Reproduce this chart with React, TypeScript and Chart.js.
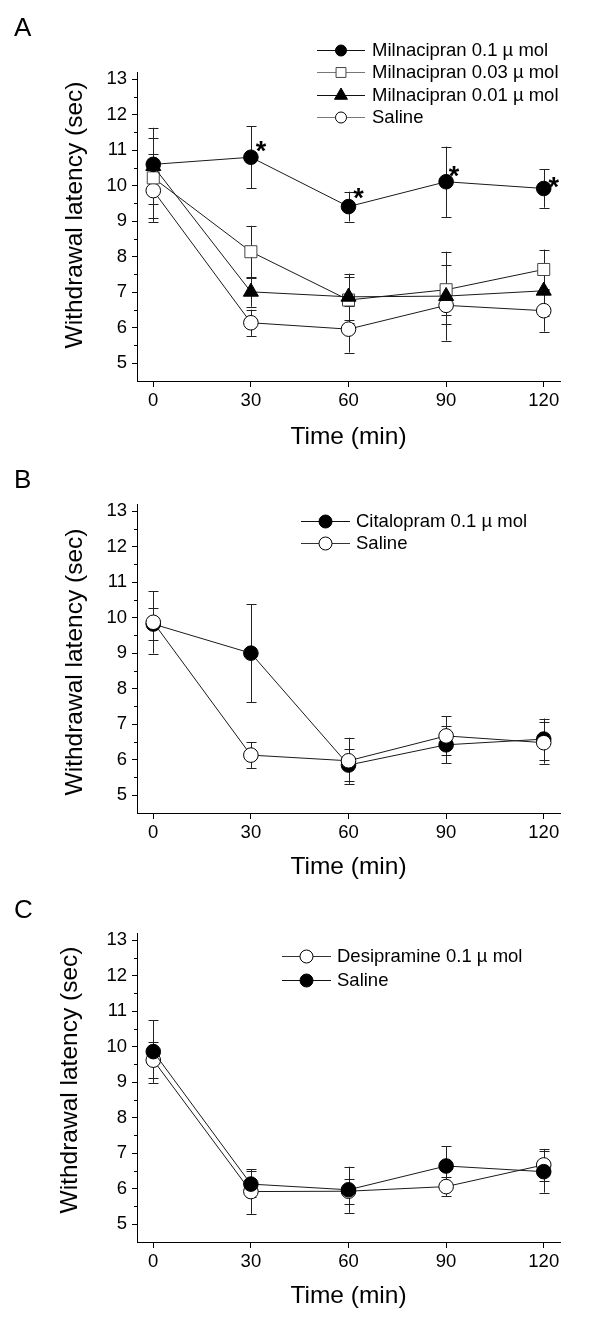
import React, { useEffect, useRef } from 'react';
import { Chart, registerables } from 'chart.js';

Chart.register(...registerables);

const FONT = "'Liberation Sans', Arial, Helvetica, sans-serif";

// ---------- shared axes ----------
const timePoints = [0, 30, 60, 90, 120];
const xTickValues = [0, 30, 60, 90, 120];
const yTickValues = [5, 6, 7, 8, 9, 10, 11, 12, 13];
const yMinorTickValues = [5.5, 6.5, 7.5, 8.5, 9.5, 10.5, 11.5, 12.5];
const xMin = -5;
const xMax = 125;
const yMin = 4.5;
const yMax = 13.2;
const xAxisTitle = 'Time (min)';
const yAxisTitle = 'Withdrawal latency (sec)';

// ---------- Panel A ----------
const milna01Label = 'Milnacipran 0.1 \u00b5 mol';
const milna01Mean = [10.6, 10.8, 9.41, 10.11, 9.92];
const milna01Err = [0.28, 0.87, 0.42, 0.99, 0.54];
const milna01Significant = [false, true, true, true, true];

const milna003Label = 'Milnacipran 0.03 \u00b5 mol';
const milna003Mean = [10.22, 8.14, 6.78, 7.07, 7.64];
const milna003Err = [1.13, 0.73, 0.66, 0.7, 0.56];

const milna001Label = 'Milnacipran 0.01 \u00b5 mol';
const milna001Mean = [10.55, 7.01, 6.87, 6.89, 7.04];
const milna001Err = [1.08, 0.42, 0.65, 1.25, 0.71];

const salineALabel = 'Saline';
const salineAMean = [9.86, 6.14, 5.96, 6.63, 6.48];
const salineAErr = [0.88, 0.37, 0.66, 0.53, 0.59];

// ---------- Panel B ----------
const citalopramLabel = 'Citalopram 0.1 \u00b5 mol';
const citalopramMean = [9.82, 9.0, 5.85, 6.42, 6.58];
const citalopramErr = [0.45, 1.38, 0.45, 0.52, 0.58];

const salineBLabel = 'Saline';
const salineBMean = [9.87, 6.13, 5.97, 6.67, 6.48];
const salineBErr = [0.88, 0.36, 0.65, 0.55, 0.59];

// ---------- Panel C ----------
const desipramineLabel = 'Desipramine 0.1 \u00b5 mol';
const desipramineMean = [9.62, 5.92, 5.93, 6.06, 6.67];
const desipramineErr = [0.5, 0.63, 0.35, 0.26, 0.45];

const salineCLabel = 'Saline';
const salineCMean = [9.86, 6.13, 5.97, 6.64, 6.48];
const salineCErr = [0.88, 0.37, 0.65, 0.56, 0.59];

// ---------- styling / layout ----------
const asteriskOffsets = [
  [0, 0],
  [10, -12],
  [10, -15],
  [8, -12],
  [10, -7],
];

type MarkerKind = 'circle' | 'rect' | 'triangle';

interface Series {
  label: string;
  mean: number[];
  err: number[];
  marker: MarkerKind;
  filled: boolean;
  stroke: string;
  legendLine: string;
  radius: number;
  legendRadius: number;
  order: number;
  significant?: boolean[];
}

interface PanelSpec {
  letter: string;
  top: number;
  height: number;
  chartTop: number;
  chartBottom: number;
  xTitlePad: number;
  yTitleX: number;
  yTitleY: number;
  letterY: number;
  legendX0: number;
  legendX1: number;
  legendTextX: number;
  legendYs: number[];
  series: Series[];
}

const panels: PanelSpec[] = [
  {
    letter: 'A',
    top: 0,
    height: 460,
    chartTop: 72,
    chartBottom: 381,
    xTitlePad: 11,
    yTitleX: 75,
    yTitleY: 215,
    letterY: 36,
    legendX0: 317,
    legendX1: 365,
    legendTextX: 372,
    legendYs: [50, 72.3, 94.6, 116.9],
    series: [
      { label: milna01Label, mean: milna01Mean, err: milna01Err, marker: 'circle', filled: true, stroke: '#000', legendLine: '#111', radius: 7.3, legendRadius: 5.5, order: 0, significant: milna01Significant },
      { label: milna003Label, mean: milna003Mean, err: milna003Err, marker: 'rect', filled: false, stroke: '#444', legendLine: '#777', radius: 8.5, legendRadius: 7, order: 2 },
      { label: milna001Label, mean: milna001Mean, err: milna001Err, marker: 'triangle', filled: true, stroke: '#000', legendLine: '#111', radius: 8.7, legendRadius: 7.5, order: 1 },
      { label: salineALabel, mean: salineAMean, err: salineAErr, marker: 'circle', filled: false, stroke: '#000', legendLine: '#777', radius: 7.3, legendRadius: 5.5, order: 3 },
    ],
  },
  {
    letter: 'B',
    top: 460,
    height: 420,
    chartTop: 44,
    chartBottom: 353,
    xTitlePad: 0.5,
    yTitleX: 75.5,
    yTitleY: 202,
    letterY: 28,
    legendX0: 301,
    legendX1: 350,
    legendTextX: 356,
    legendYs: [60.7, 83.3],
    series: [
      { label: citalopramLabel, mean: citalopramMean, err: citalopramErr, marker: 'circle', filled: true, stroke: '#000', legendLine: '#111', radius: 7.3, legendRadius: 6.5, order: 1 },
      { label: salineBLabel, mean: salineBMean, err: salineBErr, marker: 'circle', filled: false, stroke: '#000', legendLine: '#333', radius: 7.3, legendRadius: 6.5, order: 0 },
    ],
  },
  {
    letter: 'C',
    top: 880,
    height: 440,
    chartTop: 53,
    chartBottom: 362,
    xTitlePad: 12,
    yTitleX: 70,
    yTitleY: 200,
    letterY: 38,
    legendX0: 282,
    legendX1: 331,
    legendTextX: 337,
    legendYs: [76, 100],
    series: [
      { label: desipramineLabel, mean: desipramineMean, err: desipramineErr, marker: 'circle', filled: false, stroke: '#000', legendLine: '#333', radius: 7.3, legendRadius: 6.5, order: 1 },
      { label: salineCLabel, mean: salineCMean, err: salineCErr, marker: 'circle', filled: true, stroke: '#000', legendLine: '#111', radius: 7.3, legendRadius: 6.5, order: 0 },
    ],
  },
];

function drawMarker(ctx: CanvasRenderingContext2D, kind: MarkerKind, x: number, y: number, r: number, filled: boolean, stroke: string) {
  ctx.save();
  ctx.beginPath();
  if (kind === 'circle') {
    ctx.arc(x, y, r, 0, Math.PI * 2);
  } else if (kind === 'rect') {
    const s = r * Math.SQRT1_2;
    ctx.rect(x - s, y - s, 2 * s, 2 * s);
  } else {
    const a = (2 * Math.PI) / 3;
    ctx.moveTo(x, y - r);
    ctx.lineTo(x + r * Math.sin(a), y - r * Math.cos(a));
    ctx.lineTo(x + r * Math.sin(2 * a), y - r * Math.cos(2 * a));
    ctx.closePath();
  }
  ctx.fillStyle = filled ? '#000' : '#fff';
  ctx.fill();
  ctx.lineWidth = 1;
  ctx.strokeStyle = stroke;
  ctx.stroke();
  ctx.restore();
}

function buildConfig(spec: PanelSpec): any {
  const extras = {
    id: 'extras',
    beforeDatasetsDraw(chart: any) {
      const ctx: CanvasRenderingContext2D = chart.ctx;
      const xs = chart.scales.x;
      const ys = chart.scales.y;
      ctx.save();
      ctx.strokeStyle = '#222';
      ctx.lineWidth = 1;
      spec.series.forEach((s) => {
        s.mean.forEach((m, i) => {
          const px = Math.round(xs.getPixelForValue(timePoints[i])) + 0.5;
          const pt = ys.getPixelForValue(m + s.err[i]);
          const pb = ys.getPixelForValue(m - s.err[i]);
          ctx.beginPath();
          ctx.moveTo(px, pt);
          ctx.lineTo(px, pb);
          ctx.moveTo(px - 5, Math.round(pt) + 0.5);
          ctx.lineTo(px + 5, Math.round(pt) + 0.5);
          ctx.moveTo(px - 5, Math.round(pb) + 0.5);
          ctx.lineTo(px + 5, Math.round(pb) + 0.5);
          ctx.stroke();
        });
      });
      ctx.restore();
    },
    afterDraw(chart: any) {
      const ctx: CanvasRenderingContext2D = chart.ctx;
      const xs = chart.scales.x;
      const ys = chart.scales.y;
      const area = chart.chartArea;
      ctx.save();
      // minor y ticks
      ctx.strokeStyle = '#000';
      ctx.lineWidth = 1;
      yMinorTickValues.forEach((v) => {
        const py = Math.round(ys.getPixelForValue(v)) + 0.5;
        ctx.beginPath();
        ctx.moveTo(area.left - 3, py);
        ctx.lineTo(area.left, py);
        ctx.stroke();
      });
      // y axis title
      ctx.fillStyle = '#000';
      ctx.font = `24.5px ${FONT}`;
      ctx.textAlign = 'center';
      ctx.textBaseline = 'middle';
      ctx.save();
      ctx.translate(spec.yTitleX, spec.yTitleY);
      ctx.rotate(-Math.PI / 2);
      ctx.fillText(yAxisTitle, 0, 0);
      ctx.restore();
      // panel letter
      ctx.font = `26px ${FONT}`;
      ctx.textAlign = 'left';
      ctx.textBaseline = 'alphabetic';
      ctx.fillText(spec.letter, 14, spec.letterY);
      // asterisks
      ctx.font = `bold 27px ${FONT}`;
      ctx.textAlign = 'center';
      spec.series.forEach((s) => {
        if (!s.significant) return;
        s.significant.forEach((sig, i) => {
          if (!sig) return;
          const px = xs.getPixelForValue(timePoints[i]) + asteriskOffsets[i][0];
          const py = ys.getPixelForValue(s.mean[i]) + asteriskOffsets[i][1];
          ctx.fillText('*', px, py + 15);
        });
      });
      // legend
      spec.series.forEach((s, i) => {
        const ly = spec.legendYs[i];
        const yy = Math.round(ly) + 0.5;
        ctx.strokeStyle = s.legendLine;
        ctx.lineWidth = 1;
        ctx.beginPath();
        ctx.moveTo(spec.legendX0, yy);
        ctx.lineTo(spec.legendX1, yy);
        ctx.stroke();
        drawMarker(ctx, s.marker, (spec.legendX0 + spec.legendX1) / 2, yy, s.legendRadius, s.filled, s.stroke);
        ctx.fillStyle = '#000';
        ctx.font = `18.5px ${FONT}`;
        ctx.textAlign = 'left';
        ctx.textBaseline = 'middle';
        ctx.fillText(s.label, spec.legendTextX, ly + 1);
      });
      ctx.restore();
    },
  };

  return {
    type: 'line',
    data: {
      datasets: spec.series.map((s) => ({
        label: s.label,
        data: timePoints.map((t, i) => ({ x: t, y: s.mean[i] })),
        borderColor: '#1a1a1a',
        borderWidth: 1,
        pointStyle: s.marker,
        pointRadius: s.radius,
        pointHoverRadius: s.radius,
        pointBackgroundColor: s.filled ? '#000' : '#fff',
        pointBorderColor: s.stroke,
        pointBorderWidth: 1,
        tension: 0,
        fill: false,
        order: s.order,
      })),
    },
    options: {
      responsive: false,
      maintainAspectRatio: false,
      animation: false,
      events: [],
      layout: { padding: { top: spec.chartTop, right: 40, left: 0, bottom: 0 } },
      plugins: { legend: { display: false }, tooltip: { enabled: false } },
      scales: {
        x: {
          type: 'linear',
          min: xMin,
          max: xMax,
          afterBuildTicks: (s: any) => {
            s.ticks = xTickValues.map((v) => ({ value: v }));
          },
          afterFit: (s: any) => {
            s.height = spec.height - spec.chartBottom;
          },
          grid: { display: true, drawOnChartArea: false, drawTicks: true, tickLength: 6, tickColor: '#000', tickWidth: 1 },
          border: { display: true, color: '#000', width: 1 },
          ticks: { color: '#000', font: { family: FONT, size: 18.5 }, padding: 3, maxRotation: 0, autoSkip: false },
          title: { display: true, text: xAxisTitle, color: '#000', font: { family: FONT, size: 24.5, lineHeight: 1 }, padding: { top: 0, bottom: spec.xTitlePad } },
        },
        y: {
          type: 'linear',
          min: yMin,
          max: yMax,
          afterBuildTicks: (s: any) => {
            s.ticks = yTickValues.map((v) => ({ value: v }));
          },
          afterFit: (s: any) => {
            s.width = 137;
          },
          grid: { display: true, drawOnChartArea: false, drawTicks: true, tickLength: 5, tickColor: '#000', tickWidth: 1 },
          border: { display: true, color: '#000', width: 1 },
          ticks: { color: '#000', font: { family: FONT, size: 18.5 }, padding: 5, autoSkip: false },
          title: { display: false },
        },
      },
    },
    plugins: [extras],
  };
}

function Panel({ spec }: { spec: PanelSpec }) {
  const ref = useRef<HTMLCanvasElement>(null);
  useEffect(() => {
    if (!ref.current) return;
    const chart = new Chart(ref.current, buildConfig(spec));
    return () => chart.destroy();
  }, [spec]);
  return (
    <canvas
      ref={ref}
      width={600}
      height={spec.height}
      style={{ position: 'absolute', left: 0, top: spec.top, width: 600, height: spec.height }}
    />
  );
}

export default function App() {
  return (
    <div style={{ position: 'absolute', left: 0, top: 0, width: 600, height: 1320, background: '#fff', overflow: 'hidden' }}>
      {panels.map((p) => (
        <Panel key={p.letter} spec={p} />
      ))}
    </div>
  );
}
